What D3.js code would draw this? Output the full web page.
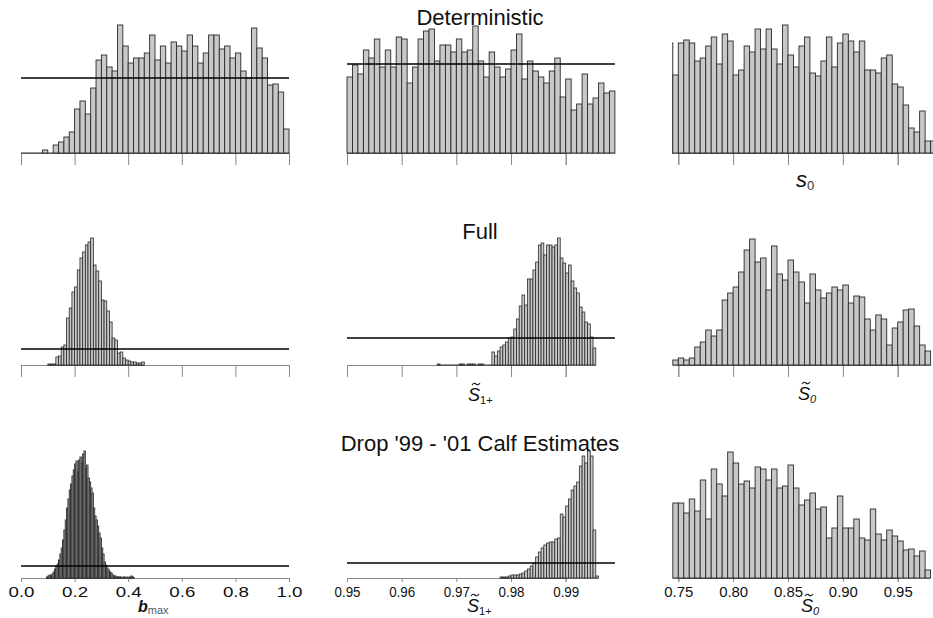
<!DOCTYPE html>
<html>
<head>
<meta charset="utf-8">
<script src="https://cdn.jsdelivr.net/npm/d3@7/dist/d3.min.js"></script>
<style>
  body { margin: 0; background: #fff; }
  svg text { font-family: "Liberation Sans", Arial, sans-serif; fill: #111; }
</style>
</head>
<body>
<svg id="chart" width="933" height="618"></svg>
<script>
// bar heights, one value per bin, left to right
let detBmaxCounts = [0,0,0,0,3,0,8,11,16,21,44,52,39,65,93,98,86,82,128,107,90,95,95,100,118,93,107,90,111,107,102,118,107,90,100,118,118,104,107,95,100,82,75,125,105,95,68,69,61,24];
let detS1Counts = [76,88,79,103,95,114,86,103,86,116,114,70,86,114,122,124,92,108,108,101,114,101,103,127,92,76,101,86,76,84,103,119,74,92,82,76,70,82,95,56,74,43,49,79,49,55,70,60,62];
let detS0Counts = [110,78,110,113,110,92,95,107,116,89,119,112,78,83,107,101,124,104,124,104,89,128,98,86,107,116,80,77,92,116,86,110,119,112,101,112,83,83,80,95,98,69,66,48,25,21,42,12,12];
let fullBmaxCounts = [1,1,1,8,9,18,20,47,57,73,78,95,107,113,120,123,127,100,94,84,65,64,54,43,27,25,12,13,7,5,4,3,3,2,2,3];
let fullS1Counts = [1,0,0,0,0,0,0,0,1,1,0,1,1,1,0,1,1,0,0,0,13,9,14,18,20,23,27,28,36,46,59,70,60,86,86,95,103,120,122,110,120,120,118,120,127,107,102,92,100,84,77,72,58,53,43,41,28,17];
let fullS0Counts = [5,7,5,7,18,23,35,29,35,65,72,78,93,115,126,103,107,75,119,91,85,105,93,83,62,91,75,67,72,78,75,80,62,69,68,46,35,50,46,20,37,43,55,56,39,20,14];
let dropBmaxCounts = [1,2,3,2,4,6,9,12,14,18,24,30,38,48,58,70,79,88,94,102,108,114,117,106,118,121,115,124,127,110,113,100,96,90,85,70,62,58,52,45,40,30,24,16,13,10,8,6,5,3,2,2,1,1,1,1,0,1,1,0,1,0,1,2,1,0];
let dropS1Counts = [1,1,1,2,3,3,3,4,5,7,9,12,15,21,26,30,33,35,36,36,39,40,64,61,72,79,88,92,96,112,122,115,127,122,48,2];
let dropS0Counts = [75,75,65,79,67,98,59,109,94,82,126,115,94,97,90,111,109,98,109,90,92,113,90,73,78,85,69,71,40,50,82,50,50,59,40,38,69,44,38,48,42,37,28,29,22,27,8];

// first bin edge and bin width of each panel, row by row
let binStarts = [0, 0.95, 0.74, 0.10, 0.9665, 0.745, 0.095, 0.978, 0.745];
let binWidths = [0.02, 0.001, 0.005, 0.01, 0.0005, 0.005, 0.005, 0.0005, 0.005];
// level of the horizontal prior line (none in the third column)
let priorLevels = [75, 89, null, 16, 27, null, 12, 15, null];

let rowTitles = ["Deterministic", "Full", "Drop '99 - '01 Calf Estimates"];
let bmaxTicks = [0, 0.2, 0.4, 0.6, 0.8, 1.0];
let s1Ticks = [0.95, 0.96, 0.97, 0.98, 0.99];
let s0Ticks = [0.75, 0.80, 0.85, 0.90, 0.95];

const svg = d3.select("#chart");

const rowBase = [153, 365, 578];
const titleY = [25, 239, 451];
const colRange = [[21, 289], [347, 565.7], [678.3, 897.7]];
const colDomain = [[0, 1], [0.95, 0.99], [0.75, 0.95]];
const priorSpan = [[0, 1], [0.95, 0.999]];
const colTicks = [bmaxTicks, s1Ticks, s0Ticks];
const colFormat = [d3.format(".1f"), d3.format(".2f"), d3.format(".2f")];
const labelWidth = [26, 26, 29];

const countsList = [detBmaxCounts, detS1Counts, detS0Counts,
                    fullBmaxCounts, fullS1Counts, fullS0Counts,
                    dropBmaxCounts, dropS1Counts, dropS0Counts];

// bars of the third column are cut off at the left edge in the original figure
svg.append("defs").append("clipPath").attr("id", "clip3")
    .append("rect").attr("x", 672).attr("y", 0).attr("width", 261).attr("height", 618);

countsList.forEach((counts, p) => {
    const row = Math.floor(p / 3), col = p % 3;
    const x = d3.scaleLinear().domain(colDomain[col]).range(colRange[col]);
    const y = d3.scaleLinear().domain([0, 130]).range([rowBase[row], rowBase[row] - 130]);

    const g = svg.append("g");

    // x axis, labels only on the bottom row
    const axis = d3.axisBottom(x)
        .tickValues(colTicks[col])
        .tickSizeOuter(0)
        .tickSize(row === 2 ? 4 : 12)
        .tickPadding(4)
        .tickFormat(row === 2 ? colFormat[col] : "");
    const ax = g.append("g")
        .attr("transform", "translate(0," + rowBase[row] + ")")
        .call(axis);
    ax.select(".domain").attr("stroke", "#8a8a8a");
    ax.selectAll(".tick line").attr("stroke", "#8a8a8a");
    ax.selectAll(".tick text")
        .attr("font-size", 15)
        .attr("textLength", labelWidth[col])
        .attr("lengthAdjust", "spacingAndGlyphs");

    const bars = g.append("g");
    if (col === 2) bars.attr("clip-path", "url(#clip3)");

    const bins = counts.map((c, i) => ({
        x0: binStarts[p] + i * binWidths[p],
        x1: binStarts[p] + (i + 1) * binWidths[p],
        n: c
    }));
    const barW = x(bins[0].x1) - x(bins[0].x0);

    // empty bins show as a flat line on the baseline
    bars.append("line")
        .attr("x1", x(bins[0].x0))
        .attr("x2", x(bins[bins.length - 1].x1))
        .attr("y1", y(0)).attr("y2", y(0))
        .attr("stroke", "#2a2a2a");

    bars.selectAll("rect.bar")
        .data(bins.filter(d => d.n > 0))
        .join("rect")
        .attr("class", "bar")
        .attr("x", d => x(d.x0))
        .attr("width", d => x(d.x1) - x(d.x0))
        .attr("y", d => y(d.n))
        .attr("height", d => y(0) - y(d.n))
        .attr("fill", "#c8c8c8")
        .attr("stroke", "#2a2a2a")
        .attr("stroke-width", barW < 2 ? 0.9 : (barW < 4 ? 0.8 : 0.9));

    if (priorLevels[p] !== null) {
        g.append("line")
            .attr("x1", x(priorSpan[col][0]))
            .attr("x2", x(priorSpan[col][1]))
            .attr("y1", y(priorLevels[p]))
            .attr("y2", y(priorLevels[p]))
            .attr("stroke", "#000")
            .attr("stroke-width", 1.5);
    }
});

// row titles
svg.selectAll("text.title")
    .data(rowTitles)
    .join("text")
    .attr("class", "title")
    .attr("x", 480)
    .attr("y", (d, i) => titleY[i])
    .attr("text-anchor", "middle")
    .attr("font-size", 22)
    .text(d => d);

// axis titles; the tilde over S is drawn as a small curve
function tildeS(x0, base, sub, subItalic) {
    const t = svg.append("text").attr("x", x0).attr("y", base);
    t.append("tspan").attr("font-size", 18).attr("font-style", "italic").text("S");
    t.append("tspan").attr("font-size", 11).attr("dy", 3)
        .attr("font-style", subItalic ? "italic" : "normal").text(sub);
    const cx = x0 + 8, cy = base - 17;
    svg.append("path")
        .attr("d", "M" + (cx - 4) + "," + (cy + 1) +
                   " q2,-3 4,-1 t4,-1")
        .attr("fill", "none")
        .attr("stroke", "#111")
        .attr("stroke-width", 1.1);
}
tildeS(468, 401, "1+", false);
tildeS(798, 400, "0", true);
tildeS(467, 612, "1+", false);
tildeS(801, 612, "0", true);

const bm = svg.append("text").attr("x", 138).attr("y", 612);
bm.append("tspan").attr("font-size", 16).attr("font-style", "italic").attr("font-weight", "bold").text("b");
bm.append("tspan").attr("font-size", 11).attr("dy", 2).style("fill", "#555").text("max");

const s0 = svg.append("text").attr("x", 796).attr("y", 187);
s0.append("tspan").attr("font-size", 22).attr("font-style", "italic").text("s");
s0.append("tspan").attr("font-size", 13).attr("dy", 3).style("fill", "#333").text("0");
</script>
</body>
</html>
